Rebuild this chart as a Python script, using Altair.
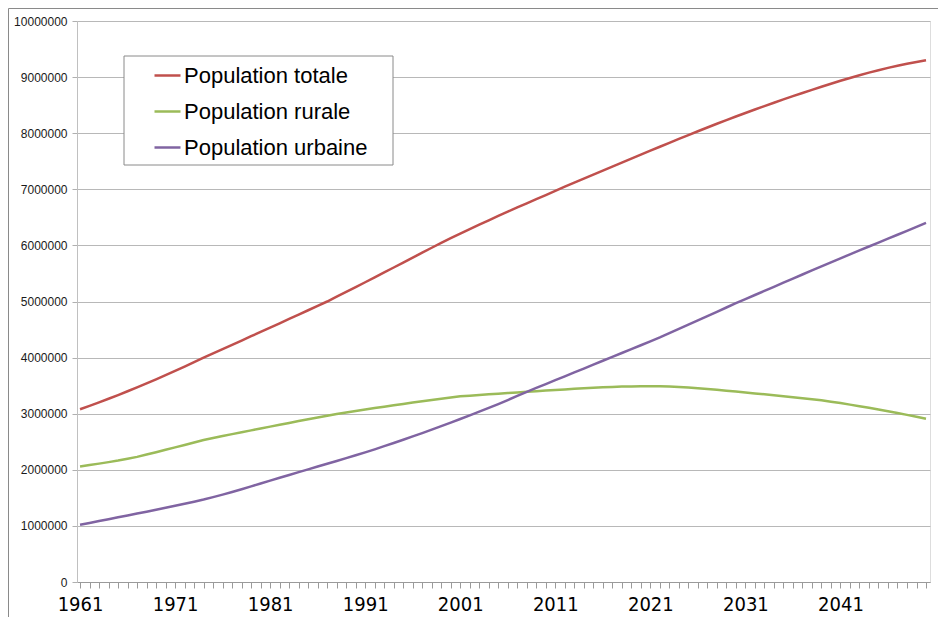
import altair as alt
import pandas as pd

years = list(range(1961, 2051))
series_names = ["Population totale", "Population rurale", "Population urbaine"]
series_colors = ["#c0504d", "#9bbb59", "#8064a2"]

# values in thousands
total_k = [
    3080, 3140, 3202, 3266, 3332, 3400, 3470, 3541, 3613, 3687,
    3763, 3841, 3920, 4000, 4076, 4152, 4228, 4304, 4381, 4458,
    4535, 4612, 4689, 4766, 4844, 4922, 5000, 5085, 5170, 5256,
    5343, 5430, 5518, 5606, 5694, 5782, 5870, 5958, 6045, 6129,
    6211, 6291, 6370, 6448, 6525, 6601, 6676, 6750, 6824, 6898,
    6972, 7046, 7118, 7190, 7262, 7333, 7404, 7475, 7546, 7617,
    7688, 7758, 7828, 7898, 7967, 8035, 8102, 8168, 8233, 8297,
    8360, 8422, 8483, 8543, 8602, 8660, 8717, 8773, 8828, 8882,
    8934, 8985, 9033, 9079, 9123, 9165, 9203, 9239, 9271, 9300,
]
rural_k = [
    2060, 2085, 2110, 2137, 2165, 2197, 2230, 2272, 2314, 2357,
    2400, 2443, 2487, 2530, 2566, 2601, 2636, 2670, 2703, 2737,
    2770, 2803, 2836, 2869, 2902, 2934, 2965, 2995, 3023, 3050,
    3075, 3100, 3125, 3150, 3174, 3198, 3222, 3245, 3267, 3289,
    3310, 3322, 3334, 3346, 3357, 3368, 3379, 3390, 3401, 3412,
    3423, 3433, 3443, 3453, 3462, 3471, 3478, 3483, 3487, 3489,
    3490, 3489, 3485, 3478, 3468, 3455, 3440, 3425, 3410, 3394,
    3378, 3362, 3346, 3330, 3312, 3294, 3276, 3258, 3240, 3215,
    3189, 3162, 3134, 3105, 3075, 3044, 3012, 2979, 2945, 2910,
]
urban_k = [
    1020, 1053, 1086, 1120, 1153, 1187, 1220, 1254, 1288, 1323,
    1358, 1394, 1431, 1470, 1513, 1558, 1605, 1654, 1704, 1756,
    1808, 1858, 1908, 1958, 2008, 2058, 2108, 2158, 2209, 2259,
    2310, 2365, 2421, 2478, 2536, 2595, 2655, 2716, 2778, 2841,
    2905, 2970, 3036, 3103, 3172, 3243, 3316, 3390, 3459, 3528,
    3597, 3666, 3735, 3805, 3875, 3944, 4013, 4082, 4151, 4220,
    4290, 4360, 4436, 4512, 4588, 4664, 4740, 4816, 4893, 4970,
    5043, 5116, 5189, 5262, 5335, 5408, 5481, 5554, 5627, 5699,
    5770, 5840, 5910, 5980, 6050, 6120, 6190, 6260, 6330, 6400,
]

rows = []
for name, vals in zip(series_names, [total_k, rural_k, urban_k]):
    for y, v in zip(years, vals):
        rows.append({"annee": y, "serie": name, "valeur": v * 1000})
df = pd.DataFrame(rows)

y_ticks = list(range(0, 10000001, 1000000))

lines = alt.Chart(df).mark_line(strokeWidth=2.5, clip=True).encode(
    x=alt.X(
        "annee:Q",
        scale=alt.Scale(domain=[1960.68, 2050.42], nice=False, zero=False),
        axis=alt.Axis(
            title=None,
            values=years,
            format="d",
            labelExpr="(datum.value - 1961) % 10 == 0 ? datum.label : ''",
            labelOverlap=False,
            labelFont="DejaVu Sans Condensed",
            labelFontSize=20,
            labelColor="#000000",
            labelPadding=6,
            tickSize=6,
            tickColor="#9a9a9a",
            domainColor="#9a9a9a",
            grid=False,
        ),
    ),
    y=alt.Y(
        "valeur:Q",
        scale=alt.Scale(domain=[0, 10000000], nice=False),
        axis=alt.Axis(
            title=None,
            values=y_ticks,
            format="d",
            labelFont="Liberation Sans",
            labelFontSize=12,
            labelColor="#1a1a1a",
            labelPadding=5,
            tickSize=5,
            tickColor="#b0b0b0",
            domainColor="#c0c0c0",
            grid=True,
            gridColor="#b8b8b8",
            gridWidth=1,
        ),
    ),
    color=alt.Color(
        "serie:N",
        scale=alt.Scale(domain=series_names, range=series_colors),
        legend=alt.Legend(
            title=None,
            orient="none",
            legendX=76,
            legendY=40,
            padding=0,
            symbolType="stroke",
            symbolSize=676,
            symbolStrokeWidth=2.5,
            labelFont="Liberation Sans",
            labelFontSize=22,
            labelColor="#000000",
            labelOffset=2,
            labelLimit=400,
            rowPadding=10,
        ),
    ),
)

legend_box = alt.Chart(alt.Data(values=[{"k": 1}])).mark_rect(
    fill="#ffffff", stroke="#8a8a8a", strokeWidth=1
).encode(
    x=alt.value(47), x2=alt.value(316), y=alt.value(35), y2=alt.value(144)
)

frame = alt.Chart(alt.Data(values=[{"k": 1}])).mark_rect(
    fill="transparent", stroke="#8a8a8a", strokeWidth=1, clip=False
).encode(
    x=alt.value(-68.5), x2=alt.value(900), y=alt.value(-12.5), y2=alt.value(700)
)

chart = alt.layer(frame, legend_box, lines).properties(
    width=853,
    height=561,
    autosize=alt.AutoSizeParams(type="none"),
    padding={"left": 69, "top": 13, "right": 8, "bottom": 35},
).configure_view(stroke=None).configure(background="#ffffff")

chart.save("out.html", embed_options={"renderer": "svg", "actions": False})
